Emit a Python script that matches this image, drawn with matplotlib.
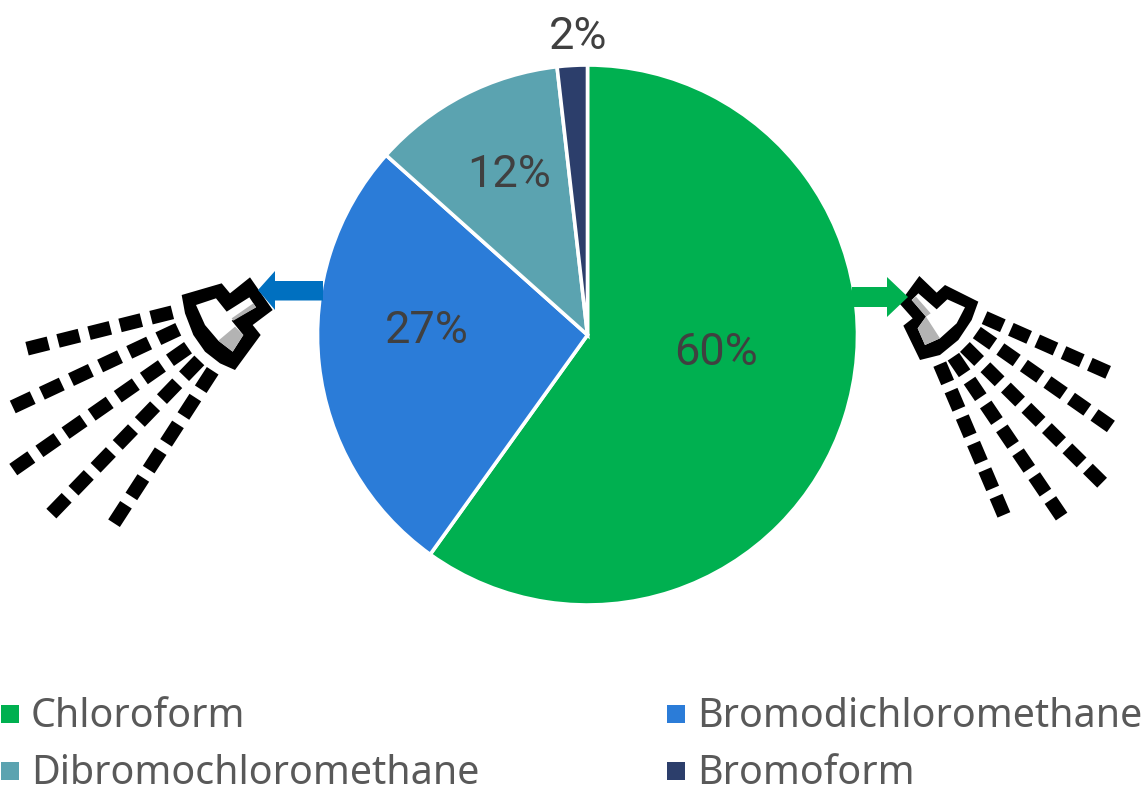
import matplotlib
matplotlib.use("Agg")
import matplotlib.pyplot as plt
import numpy as np
from matplotlib.patches import Polygon, Rectangle

plt.rcParams['font.family'] = ['Noto Sans', 'DejaVu Sans']

# Data
categories = ['Chloroform', 'Bromodichloromethane', 'Dibromochloromethane', 'Bromoform']
values = [59.9, 26.7, 11.6, 1.8]
pct_labels = ['60%', '27%', '12%', '2%']
colors = ['#00B050', '#2B7CD8', '#5BA3B0', '#2C3E6B']

# Layout in pixels, y goes down
label_pos = [(716, 365), (427, 343), (509, 187), (578, 49)]
legend_pos = [(1, 705), (667, 705), (1, 762), (667, 762)]

# Spray dashes: first centre, last centre, number of dashes
spray_left = [((161.7, 315), (37.7, 346), 5),
              ((168.3, 334), (22.7, 402.3), 6),
              ((179, 354), (22.3, 463.3), 7),
              ((191.7, 368.3), (59, 505.7), 7),
              ((206.7, 380), (120, 514), 6)]
spray_right = [((993.7, 321.7), (1099, 368.3), 5),
               ((985, 338.3), (1102.7, 420.7), 6),
               ((972, 354), (1095, 475.7), 7),
               ((959, 365), (1056, 508.3), 7),
               ((943.7, 373.3), (1000, 505.7), 6)]


def zoomed(pts, x0, y0=270):
    return [(x0 + x / 3, y0 + y / 3) for x, y in pts]


def draw_spray(ax, lines, dash_len):
    for start, end, n in lines:
        start = np.array(start)
        end = np.array(end)
        d = (end - start) / np.hypot(*(end - start))
        for t in np.linspace(0, 1, n):
            c = start + (end - start) * t
            ax.plot(*zip(c - d * dash_len / 2, c + d * dash_len / 2),
                    color='black', lw=10, solid_capstyle='butt', zorder=3)


fig = plt.figure(figsize=(11.46, 7.89), dpi=100)
ax = fig.add_axes([0, 0, 1, 1])

# y axis is inverted, so counterclock here runs clockwise on screen
ax.pie(values, colors=colors, center=(587.5, 335), radius=270, startangle=-90,
       counterclock=True, wedgeprops=dict(edgecolor='white', linewidth=2.6))
ax.set_xlim(0, 1146)
ax.set_ylim(789, 0)
ax.set_aspect('equal')
ax.axis('off')

for (x, y), s in zip(label_pos, pct_labels):
    ax.text(x, y, s, ha='center', va='baseline', fontsize=32.5, color='#404040', zorder=5,
            family=['Roboto', 'DejaVu Sans'])

# Legend
for (x, y), c, name in zip(legend_pos, colors, categories):
    ax.add_patch(Rectangle((x, y), 18, 18, facecolor=c, edgecolor='none'))
    ax.text(x + 30, y + 22, name, ha='left', va='baseline', fontsize=28.4, color='#595959')

# Left nozzle
ax.add_patch(Polygon(zoomed([(35, 75), (155, 40), (180, 70), (240, 22), (308, 120), (248, 165), (272, 195),
                             (195, 300), (150, 280), (105, 245), (70, 195), (45, 130)], 170),
                     facecolor='black', zorder=3))
ax.add_patch(Polygon(zoomed([(78, 105), (138, 85), (170, 125), (238, 82), (258, 112), (185, 152),
                             (220, 195), (188, 245), (145, 212), (105, 165)], 170),
                     facecolor='white', zorder=3.1))
ax.add_patch(Polygon(zoomed([(145, 212), (195, 170), (220, 195), (188, 245)], 170), facecolor='#B3B3B3', zorder=3.2))
ax.add_patch(Polygon(zoomed([(185, 145), (250, 100), (258, 112), (190, 152)], 170), facecolor='#B3B3B3', zorder=3.2))
draw_spray(ax, spray_left, 22)

# Right nozzle
ax.add_patch(Polygon(zoomed([(265, 95), (165, 45), (140, 68), (88, 18), (28, 100), (68, 145), (40, 167),
                             (90, 270), (150, 255), (205, 210), (245, 150)], 890),
                     facecolor='black', zorder=3))
ax.add_patch(Polygon(zoomed([(225, 112), (172, 88), (140, 118), (85, 70), (65, 90), (108, 140),
                             (83, 175), (105, 225), (150, 205), (200, 160)], 890),
                     facecolor='white', zorder=3.1))
ax.add_patch(Polygon(zoomed([(108, 140), (150, 205), (105, 225), (83, 175)], 890), facecolor='#B3B3B3', zorder=3.2))
ax.add_patch(Polygon(zoomed([(65, 90), (78, 80), (122, 130), (108, 140)], 890), facecolor='#B3B3B3', zorder=3.2))
draw_spray(ax, spray_right, 20)

# Arrows
ax.add_patch(Polygon([(323, 281), (275, 281), (275, 271), (258, 290), (275, 310), (275, 300.5), (323, 300.5)],
                     facecolor='#0070C0', zorder=4))
ax.add_patch(Polygon([(852, 287), (887, 287), (887, 277), (908, 297), (887, 317), (887, 307), (852, 307)],
                     facecolor='#00B050', zorder=4))

fig.savefig('out.png', dpi=100)
